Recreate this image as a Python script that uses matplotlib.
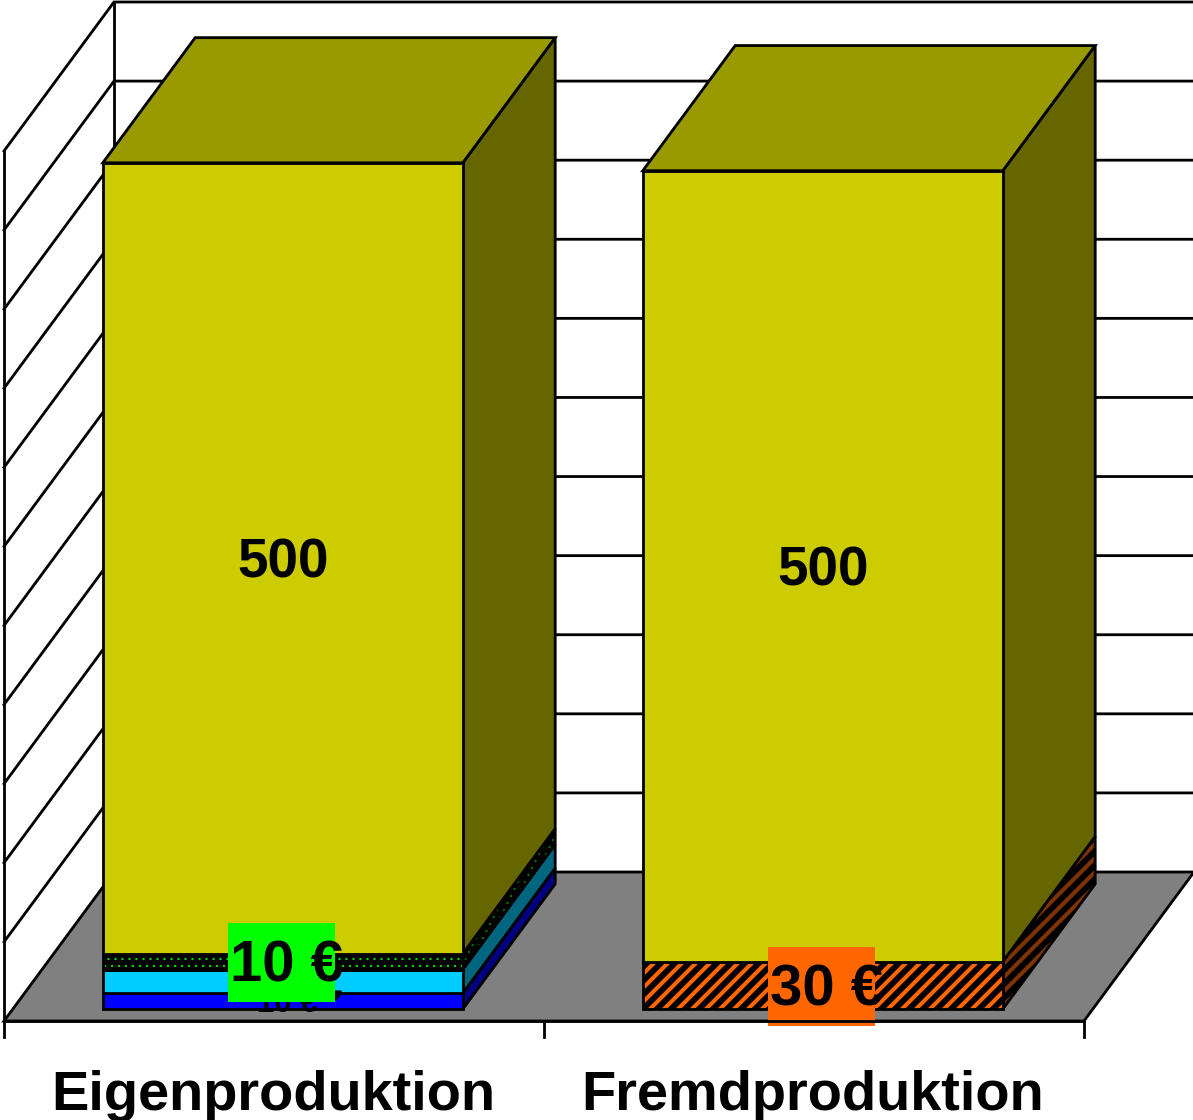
import matplotlib
matplotlib.use("Agg")
from matplotlib import pyplot as plt
from matplotlib.patches import Polygon, Rectangle

DPI = 84  # hatch tile is one inch, so this sets the stripe spacing
W_PX, H_PX = 1193, 1120

categories = ["Eigenproduktion", "Fremdproduktion"]
grid_values = [50, 100, 150, 200, 250, 300, 350, 400, 450, 500, 550]

# stacks, bottom to top
eigen_values = [10, 15, 10, 500]
eigen_labels = ["10 €", "15 €", "10 €", "500"]
fremd_values = [30, 500]
fremd_labels = ["30 €", "500"]

Y_MAX = 550
BAR_LEFT = [1 / 6, 7 / 6]
BAR_WIDTH = 2 / 3
DEPTH_NEAR, DEPTH_FAR = 0.08, 0.92

# projection of the depth axis, in px
PX_X0, PX_Y0 = 4, 1021
PX_PER_CAT = 540
PX_PER_UNIT = 870 / 550
DEPTH_DX = 110 / PX_PER_CAT
DEPTH_DY = 149 / PX_PER_UNIT

LW = 2.8 * 72 / DPI


def pt(px):
    return px * 72 / DPI


def proj(x, v, d=0.0):
    return x + d * DEPTH_DX, v + d * DEPTH_DY


def face(ax, pts, z, **kw):
    p = Polygon([proj(*q) for q in pts], closed=True, zorder=z, joinstyle="miter", **kw)
    ax.add_patch(p)
    return p


def hatched(ax, pts, z, color, style):
    # style: plain colour, stripes or dots
    if style == "stripes":
        plt.rcParams["hatch.linewidth"] = 5.0
        face(ax, pts, z, facecolor=color, edgecolor="black", hatch="//", lw=0)
    elif style == "dots":
        plt.rcParams["hatch.linewidth"] = 0.8
        face(ax, pts, z, facecolor="black", edgecolor=color, hatch="..", lw=0)
    else:
        face(ax, pts, z, facecolor=color, edgecolor="none", lw=0)
    face(ax, pts, z, facecolor="none", edgecolor="black", lw=LW)


def draw_bar(ax, left, values, labels, styles, fronts, sides, boxes):
    right = left + BAR_WIDTH
    base = 0
    for i, val in enumerate(values):
        top = base + val
        front = [(left, base, DEPTH_NEAR), (right, base, DEPTH_NEAR), (right, top, DEPTH_NEAR), (left, top, DEPTH_NEAR)]
        side = [(right, base, DEPTH_NEAR), (right, base, DEPTH_FAR), (right, top, DEPTH_FAR), (right, top, DEPTH_NEAR)]
        hatched(ax, side, 2, sides[i], styles[i])
        hatched(ax, front, 2.1, fronts[i], styles[i])

        cx, cy = proj(left + BAR_WIDTH / 2, base + val / 2, DEPTH_NEAR)
        box = boxes[i]
        if box is not None:
            bw, bh = 107 / PX_PER_CAT, 79 / PX_PER_UNIT
            ax.add_patch(Rectangle((cx - bw / 2 - 1.5 / PX_PER_CAT, cy - bh / 2 - 1 / PX_PER_UNIT), bw, bh,
                                   facecolor=box, edgecolor="none", zorder=4))
        # the small label sits behind the large one in the source chart
        size = 31 if labels[i] == "10 €" and i == 0 else 58
        if labels[i] == "500":
            size = 55
        shift = 0 if labels[i] == "500" else 4 / PX_PER_CAT
        ax.text(cx + shift, cy + 1 / PX_PER_UNIT, labels[i], ha="center", va="center_baseline", fontsize=pt(size),
                fontweight="bold", color="black", zorder=5 if box is not None else 3)
        base = top

    top_face = [(left, base, DEPTH_NEAR), (right, base, DEPTH_NEAR), (right, base, DEPTH_FAR), (left, base, DEPTH_FAR)]
    hatched(ax, top_face, 2.2, "#999900", "plain")


def main():
    plt.rcParams["font.family"] = ["Liberation Sans", "DejaVu Sans"]
    fig = plt.figure(figsize=(W_PX / DPI, H_PX / DPI), dpi=DPI)
    ax = fig.add_axes([0, 0, 1, 1])
    ax.set_xlim(-PX_X0 / PX_PER_CAT, (W_PX - PX_X0) / PX_PER_CAT)
    ax.set_ylim((PX_Y0 - H_PX) / PX_PER_UNIT, PX_Y0 / PX_PER_UNIT)
    ax.axis("off")

    n_cat = len(categories)

    # walls
    for val in grid_values:
        x0, y0 = proj(0, val)
        x1, y1 = proj(0, val, 1)
        x2, y2 = proj(n_cat, val, 1)
        ax.plot([x0, x1, x2], [y0, y1, y2], color="black", lw=LW, zorder=0.5, solid_joinstyle="miter")
    for d in (0, 1):
        x0, y0 = proj(0, 0, d)
        x1, y1 = proj(0, Y_MAX, d)
        ax.plot([x0, x1], [y0, y1], color="black", lw=LW, zorder=0.5)

    # floor
    face(ax, [(0, 0, 0), (n_cat, 0, 0), (n_cat, 0, 1), (0, 0, 1)], 1, facecolor="#808080", edgecolor="black", lw=LW)

    # x axis ticks and labels
    tick_len = 16 / PX_PER_UNIT
    for i in range(n_cat + 1):
        ax.plot([i, i], [0, -tick_len], color="black", lw=LW, zorder=1)
    ax.plot([0, n_cat], [0, 0], color="black", lw=LW, zorder=6)
    label_y = -89 / PX_PER_UNIT
    for i, name in enumerate(categories):
        ax.text(i + 0.5 - 1 / PX_PER_CAT, label_y, name, ha="center", va="baseline", fontsize=pt(56),
                fontweight="bold", color="black")

    draw_bar(ax, BAR_LEFT[0], eigen_values, eigen_labels,
             ["plain", "plain", "dots", "plain"],
             ["#0000FF", "#00CCFF", "#00DD00", "#CCCC00"],
             ["#000080", "#006680", "#007700", "#666600"],
             [None, None, "#00FF00", None])
    draw_bar(ax, BAR_LEFT[1], fremd_values, fremd_labels,
             ["stripes", "plain"],
             ["#FF6600", "#CCCC00"],
             ["#803300", "#666600"],
             ["#FF6600", None])

    fig.savefig("out.png", dpi=DPI)


main()
